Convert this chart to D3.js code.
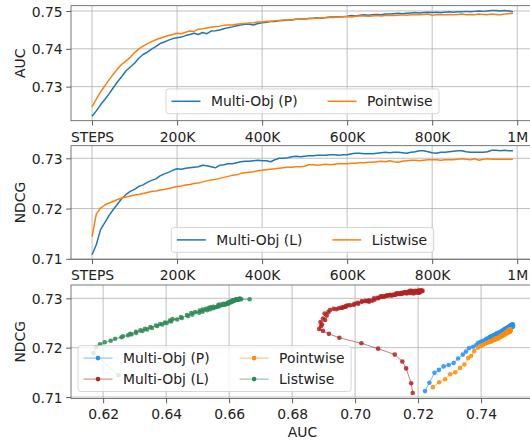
<!DOCTYPE html>
<html>
<head>
<meta charset="utf-8">
<script src="https://cdn.jsdelivr.net/npm/d3@7"></script>
<style>
  body { margin: 0; background: #fff; }
  svg { display: block; font-family: "DejaVu Sans", sans-serif; }
</style>
</head>
<body>
<svg id="fig" width="530" height="440"></svg>
<script>
// training steps (thousands)
var steps = [0,10,20,30,40,50,60,70,80,90,
  100,110,120,130,140,150,160,170,180,190,
  200,210,220,230,240,250,260,270,280,290,
  300,310,320,330,340,350,360,370,380,390,
  400,410,420,430,440,450,460,470,480,490,
  500,510,520,530,540,550,560,570,580,590,
  600,610,620,630,640,650,660,670,680,690,
  700,710,720,730,740,750,760,770,780,790,
  800,810,820,830,840,850,860,870,880,890,
  900,910,920,930,940,950,960,970,980,990];

// AUC per step
var aucMultiP = [0.7222,0.7236,0.7252,0.7266,0.7281,0.7297,0.7313,0.7327,0.7342,0.7352,
  0.7362,0.7375,0.7385,0.7391,0.7399,0.7406,0.7414,0.7418,0.7423,0.7427,
  0.7429,0.7431,0.7435,0.7438,0.7441,0.7438,0.7443,0.7440,0.7447,0.7448,
  0.7450,0.7453,0.7456,0.7458,0.7461,0.7463,0.7465,0.7465,0.7463,0.7467,
  0.7469,0.7470,0.7472,0.7472,0.7474,0.7475,0.7476,0.7476,0.7478,0.7479,
  0.7478,0.7480,0.7481,0.7482,0.7481,0.7483,0.7484,0.7484,0.7485,0.7485,
  0.7486,0.7488,0.7487,0.7489,0.7490,0.7489,0.7490,0.7491,0.7490,0.7492,
  0.7492,0.7493,0.7494,0.7493,0.7494,0.7495,0.7496,0.7495,0.7496,0.7497,
  0.7496,0.7497,0.7496,0.7497,0.7498,0.7497,0.7498,0.7498,0.7499,0.7498,
  0.7499,0.7500,0.7499,0.7500,0.7501,0.7501,0.7500,0.7501,0.7500,0.7498];
var aucPointwise = [0.7247,0.7267,0.7286,0.7302,0.7318,0.7333,0.7347,0.7359,0.7368,0.7378,
  0.7390,0.7400,0.7407,0.7413,0.7419,0.7424,0.7428,0.7432,0.7435,0.7438,
  0.7441,0.7440,0.7444,0.7447,0.7446,0.7452,0.7453,0.7455,0.7457,0.7459,
  0.7460,0.7462,0.7463,0.7463,0.7465,0.7466,0.7467,0.7468,0.7469,0.7471,
  0.7471,0.7473,0.7473,0.7474,0.7475,0.7476,0.7476,0.7477,0.7478,0.7478,
  0.7479,0.7480,0.7480,0.7481,0.7482,0.7482,0.7483,0.7483,0.7484,0.7485,
  0.7485,0.7484,0.7486,0.7487,0.7487,0.7486,0.7487,0.7488,0.7487,0.7488,
  0.7489,0.7488,0.7489,0.7490,0.7489,0.7490,0.7491,0.7490,0.7491,0.7492,
  0.7489,0.7490,0.7491,0.7490,0.7491,0.7490,0.7491,0.7492,0.7490,0.7491,
  0.7490,0.7492,0.7491,0.7490,0.7492,0.7491,0.7490,0.7492,0.7493,0.7494];

// NDCG per step
var ndcgMultiL = [0.7108,0.7128,0.7158,0.7172,0.7186,0.7198,0.7209,0.7220,0.7228,0.7234,
  0.7238,0.7244,0.7247,0.7252,0.7256,0.7259,0.7265,0.7269,0.7272,0.7276,
  0.7279,0.7278,0.7280,0.7281,0.7282,0.7283,0.7286,0.7285,0.7283,0.7281,
  0.7286,0.7287,0.7289,0.7289,0.7291,0.7293,0.7294,0.7294,0.7295,0.7296,
  0.7295,0.7295,0.7293,0.7297,0.7300,0.7300,0.7301,0.7303,0.7304,0.7303,
  0.7304,0.7305,0.7305,0.7306,0.7306,0.7306,0.7307,0.7307,0.7306,0.7307,
  0.7307,0.7309,0.7310,0.7310,0.7309,0.7309,0.7309,0.7310,0.7311,0.7312,
  0.7311,0.7312,0.7312,0.7311,0.7310,0.7312,0.7313,0.7315,0.7315,0.7313,
  0.7311,0.7310,0.7312,0.7312,0.7313,0.7314,0.7315,0.7315,0.7313,0.7312,
  0.7312,0.7312,0.7312,0.7313,0.7316,0.7316,0.7315,0.7316,0.7315,0.7315];
var ndcgListwise = [0.7144,0.7189,0.7201,0.7207,0.7211,0.7214,0.7218,0.7221,0.7223,0.7225,
  0.7227,0.7228,0.7230,0.7232,0.7234,0.7235,0.7237,0.7238,0.7240,0.7242,
  0.7244,0.7245,0.7247,0.7248,0.7250,0.7251,0.7253,0.7255,0.7257,0.7258,
  0.7260,0.7262,0.7264,0.7266,0.7267,0.7270,0.7271,0.7272,0.7273,0.7275,
  0.7276,0.7277,0.7278,0.7279,0.7280,0.7281,0.7282,0.7282,0.7283,0.7283,
  0.7284,0.7287,0.7287,0.7286,0.7287,0.7288,0.7287,0.7288,0.7289,0.7289,
  0.7289,0.7290,0.7290,0.7291,0.7291,0.7292,0.7292,0.7293,0.7294,0.7293,
  0.7295,0.7293,0.7292,0.7294,0.7295,0.7296,0.7296,0.7295,0.7296,0.7297,
  0.7297,0.7297,0.7296,0.7297,0.7297,0.7297,0.7298,0.7299,0.7298,0.7297,
  0.7299,0.7296,0.7298,0.7299,0.7298,0.7298,0.7298,0.7298,0.7298,0.7298];

// the other metric of each model, for the AUC vs NDCG panel
var ndcgMultiP = [0.7112,0.7129,0.7149,0.7155,0.7162,0.7165,0.7169,0.7178,0.7186,0.7192,
  0.7199,0.7202,0.7206,0.7210,0.7212,0.7214,0.7216,0.7218,0.7219,0.7221,
  0.7222,0.7223,0.7222,0.7224,0.7225,0.7224,0.7226,0.7225,0.7227,0.7228,
  0.7229,0.7228,0.7230,0.7231,0.7230,0.7232,0.7231,0.7233,0.7232,0.7234,
  0.7233,0.7235,0.7234,0.7236,0.7235,0.7237,0.7236,0.7238,0.7237,0.7236,
  0.7238,0.7239,0.7237,0.7239,0.7240,0.7238,0.7240,0.7241,0.7239,0.7241,
  0.7240,0.7242,0.7241,0.7239,0.7242,0.7243,0.7241,0.7240,0.7243,0.7242,
  0.7244,0.7241,0.7243,0.7245,0.7242,0.7244,0.7243,0.7245,0.7241,0.7244,
  0.7246,0.7243,0.7245,0.7242,0.7244,0.7246,0.7243,0.7245,0.7247,0.7244,
  0.7246,0.7243,0.7245,0.7247,0.7244,0.7246,0.7242,0.7245,0.7247,0.7244];
var ndcgPointwise = [0.7120,0.7130,0.7136,0.7146,0.7150,0.7159,0.7166,0.7179,0.7183,0.7193,
  0.7200,0.7204,0.7206,0.7208,0.7210,0.7211,0.7213,0.7212,0.7214,0.7215,
  0.7216,0.7217,0.7216,0.7218,0.7219,0.7218,0.7220,0.7219,0.7221,0.7222,
  0.7221,0.7223,0.7222,0.7224,0.7223,0.7225,0.7224,0.7226,0.7225,0.7227,
  0.7226,0.7228,0.7227,0.7226,0.7228,0.7229,0.7227,0.7229,0.7230,0.7228,
  0.7230,0.7231,0.7229,0.7231,0.7230,0.7232,0.7230,0.7232,0.7233,0.7231,
  0.7233,0.7232,0.7234,0.7232,0.7233,0.7235,0.7232,0.7234,0.7233,0.7235,
  0.7234,0.7232,0.7235,0.7233,0.7236,0.7234,0.7233,0.7235,0.7234,0.7236,
  0.7233,0.7235,0.7234,0.7236,0.7233,0.7235,0.7237,0.7234,0.7236,0.7233,
  0.7235,0.7237,0.7234,0.7236,0.7235,0.7233,0.7236,0.7234,0.7237,0.7235];
var aucMultiL = [0.7183,0.7178,0.7162,0.7150,0.7126,0.7073,0.7020,0.6950,0.6917,0.6898,
  0.6886,0.6892,0.6895,0.6890,0.6905,0.6898,0.6910,0.6903,0.6915,0.6920,
  0.6932,0.6940,0.6948,0.6955,0.6962,0.6970,0.6978,0.6972,0.6968,0.6960,
  0.6985,0.6996,0.6998,0.7010,0.7008,0.7022,0.7021,0.7034,0.7032,0.7045,
  0.7041,0.7054,0.7044,0.7062,0.7060,0.7074,0.7071,0.7084,0.7081,0.7092,
  0.7088,0.7100,0.7097,0.7108,0.7104,0.7115,0.7112,0.7121,0.7117,0.7128,
  0.7124,0.7134,0.7131,0.7141,0.7136,0.7146,0.7142,0.7152,0.7148,0.7158,
  0.7153,0.7163,0.7159,0.7167,0.7163,0.7173,0.7169,0.7179,0.7174,0.7183,
  0.7177,0.7186,0.7182,0.7190,0.7186,0.7195,0.7190,0.7198,0.7194,0.7202,
  0.7197,0.7204,0.7200,0.7207,0.7203,0.7209,0.7206,0.7212,0.7208,0.7214];
var aucListwise = [0.6249,0.6169,0.6178,0.6190,0.6205,0.6224,0.6238,0.6258,0.6263,0.6279,
  0.6290,0.6286,0.6305,0.6304,0.6325,0.6318,0.6340,0.6333,0.6355,0.6350,
  0.6372,0.6368,0.6388,0.6381,0.6402,0.6396,0.6416,0.6412,0.6435,0.6420,
  0.6450,0.6447,0.6470,0.6466,0.6483,0.6480,0.6505,0.6492,0.6516,0.6507,
  0.6530,0.6516,0.6540,0.6526,0.6550,0.6536,0.6558,0.6542,0.6563,0.6550,
  0.6568,0.6580,0.6566,0.6574,0.6585,0.6578,0.6570,0.6590,0.6596,0.6583,
  0.6592,0.6597,0.6594,0.6601,0.6598,0.6605,0.6602,0.6608,0.6612,0.6606,
  0.6615,0.6604,0.6598,0.6609,0.6614,0.6618,0.6615,0.6610,0.6619,0.6622,
  0.6624,0.6620,0.6616,0.6623,0.6627,0.6621,0.6628,0.6632,0.6626,0.6619,
  0.6633,0.6612,0.6629,0.6636,0.6630,0.6627,0.6634,0.6631,0.6638,0.6665];

var stepTicks = [0, 200, 400, 600, 800, 1000];
var stepTickLabels = ['STEPS', '200K', '400K', '600K', '800K', '1M'];
var aucTicks = [0.73, 0.74, 0.75];
var ndcgTicks = [0.71, 0.72, 0.73];
var aucScatterTicks = [0.62, 0.64, 0.66, 0.68, 0.70, 0.72, 0.74];

var FS = 13.9;
var LEFT = 71, RIGHT = 534;
var svg = d3.select('#fig');
var nClip = 0;

function axes(top, bottom, xDom, yDom, xTicks, xFmt, yTicks) {
  var x = d3.scaleLinear().domain(xDom).range([LEFT, RIGHT]);
  var y = d3.scaleLinear().domain(yDom).range([bottom, top]);
  var g = svg.append('g');

  g.selectAll('.gx').data(xTicks).enter().append('line')
    .attr('x1', d => x(d)).attr('x2', d => x(d))
    .attr('y1', top).attr('y2', bottom)
    .attr('stroke', '#b0b0b0').attr('stroke-width', 0.8);
  g.selectAll('.gy').data(yTicks).enter().append('line')
    .attr('x1', LEFT).attr('x2', RIGHT)
    .attr('y1', d => y(d)).attr('y2', d => y(d))
    .attr('stroke', '#b0b0b0').attr('stroke-width', 0.8);

  var xa = svg.append('g').attr('transform', 'translate(0,' + bottom + ')')
    .call(d3.axisBottom(x).tickValues(xTicks).tickFormat(xFmt)
      .tickSize(4.8).tickSizeOuter(0).tickPadding(6.3));
  var ya = svg.append('g').attr('transform', 'translate(' + LEFT + ',0)')
    .call(d3.axisLeft(y).tickValues(yTicks).tickFormat(d3.format('.2f'))
      .tickSize(4.8).tickSizeOuter(0).tickPadding(3.5));
  [xa, ya].forEach(a => {
    a.select('.domain').remove();
    a.attr('font-family', null).attr('font-size', FS);
    a.selectAll('.tick line').attr('stroke', '#333').attr('stroke-width', 0.8);
    a.selectAll('.tick text').attr('fill', '#222');
  });
  ya.selectAll('.tick text').attr('dy', '0.36em');

  var id = 'clip' + (nClip++);
  svg.append('clipPath').attr('id', id).append('rect')
    .attr('x', LEFT).attr('y', top).attr('width', RIGHT - LEFT).attr('height', bottom - top);
  var plot = svg.append('g').attr('clip-path', 'url(#' + id + ')');

  return {x: x, y: y, top: top, bottom: bottom, plot: plot};
}

function frame(ax) {
  svg.append('rect')
    .attr('x', LEFT).attr('y', ax.top)
    .attr('width', RIGHT - LEFT).attr('height', ax.bottom - ax.top)
    .attr('fill', 'none').attr('stroke', '#555').attr('stroke-width', 0.8);
}

function yLabel(ax, text) {
  svg.append('text')
    .attr('transform', 'translate(24.5,' + ((ax.top + ax.bottom) / 2) + ') rotate(-90)')
    .attr('text-anchor', 'middle').attr('font-size', FS).attr('fill', '#222')
    .text(text);
}

function textWidth(s) {
  var t = svg.append('text').attr('font-size', FS).text(s);
  var w = t.node().getComputedTextLength();
  t.remove();
  return w;
}

// columns of {label, color}; place = {left} or {center}; bottom edge of the box
function legend(columns, place, bottom, withMarker) {
  var pad = 5.5, padR = 6.5, hLen = 29, hGap = 10.5, colGap = 30, rowH = 21, textH = 13.8;
  var nRows = d3.max(columns, c => c.length);
  var widths = columns.map(c => d3.max(c, e => textWidth(e.label)));
  var boxW = pad + padR + d3.sum(widths) + columns.length * (hLen + hGap) + (columns.length - 1) * colGap;
  var boxH = 2 * pad + nRows * textH + (nRows - 1) * (rowH - textH);
  var left = place.left !== undefined ? place.left : place.center - boxW / 2;
  var top = bottom - boxH;
  var g = svg.append('g');
  g.append('rect').attr('x', left).attr('y', top).attr('width', boxW).attr('height', boxH)
    .attr('rx', 2.8).attr('fill', '#fff').attr('fill-opacity', 0.8)
    .attr('stroke', '#cccccc').attr('stroke-width', 0.8);
  var cx = left + pad;
  columns.forEach((col, ci) => {
    col.forEach((e, ri) => {
      var cy = top + pad + textH / 2 + ri * rowH;
      g.append('line').attr('x1', cx).attr('x2', cx + hLen).attr('y1', cy).attr('y2', cy)
        .attr('stroke', e.color).attr('stroke-width', withMarker ? 1 : 1.5)
        .attr('stroke-opacity', withMarker ? 0.6 : 1);
      if (withMarker) {
        g.append('circle').attr('cx', cx + hLen / 2).attr('cy', cy).attr('r', 2.3)
          .attr('fill', e.color);
      }
      g.append('text').attr('x', cx + hLen + hGap).attr('y', cy).attr('dy', '0.36em')
        .attr('font-size', FS).attr('fill', '#222').text(e.label);
    });
    cx += hLen + hGap + widths[ci] + colGap;
  });
}

var stepFmt = (d, i) => stepTickLabels[i];
var stepDomain = [-49.5, 1039.5];

// panel 1: AUC over steps
var ax1 = axes(5.7, 120.7, stepDomain, [0.7210, 0.7514], stepTicks, stepFmt, aucTicks);
var line1 = d3.line().x((d, i) => ax1.x(steps[i])).y(d => ax1.y(d));
[[aucMultiP, '#1f77b4'], [aucPointwise, '#ff7f0e']].forEach(s => {
  ax1.plot.append('path').datum(s[0]).attr('d', line1)
    .attr('fill', 'none').attr('stroke', s[1]).attr('stroke-width', 1.5)
    .attr('stroke-linejoin', 'round');
});
frame(ax1);
yLabel(ax1, 'AUC');
legend([[{label: 'Multi-Obj (P)', color: '#1f77b4'}], [{label: 'Pointwise', color: '#ff7f0e'}]],
  {center: (LEFT + RIGHT) / 2}, 120.7 - 7, false);

// panel 2: NDCG over steps
var ax2 = axes(145.7, 259.3, stepDomain, [0.7099, 0.7325], stepTicks, stepFmt, ndcgTicks);
var line2 = d3.line().x((d, i) => ax2.x(steps[i])).y(d => ax2.y(d));
[[ndcgMultiL, '#1f77b4'], [ndcgListwise, '#ff7f0e']].forEach(s => {
  ax2.plot.append('path').datum(s[0]).attr('d', line2)
    .attr('fill', 'none').attr('stroke', s[1]).attr('stroke-width', 1.5)
    .attr('stroke-linejoin', 'round');
});
frame(ax2);
yLabel(ax2, 'NDCG');
legend([[{label: 'Multi-Obj (L)', color: '#1f77b4'}], [{label: 'Listwise', color: '#ff7f0e'}]],
  {center: (LEFT + RIGHT) / 2}, 259.3 - 7, false);

// panel 3: NDCG against AUC
var ax3 = axes(285, 398.5, [0.6098, 0.7568], [0.7097, 0.7327], aucScatterTicks, d3.format('.2f'), ndcgTicks);
var pairs = [
  {label: 'Multi-Obj (P)', color: '#1e90ff', xs: aucMultiP, ys: ndcgMultiP},
  {label: 'Multi-Obj (L)', color: '#b22222', xs: aucMultiL, ys: ndcgMultiL},
  {label: 'Pointwise', color: '#ff8c00', xs: aucPointwise, ys: ndcgPointwise},
  {label: 'Listwise', color: '#2e8b57', xs: aucListwise, ys: ndcgListwise}
];
var line3 = d3.line().x(d => ax3.x(d[0])).y(d => ax3.y(d[1]));
pairs.forEach(s => {
  var pts = d3.zip(s.xs, s.ys);
  var g = ax3.plot.append('g');
  g.append('path').datum(pts).attr('d', line3)
    .attr('fill', 'none').attr('stroke', s.color).attr('stroke-width', 1)
    .attr('stroke-opacity', 0.6);
  g.selectAll('circle').data(pts).enter().append('circle')
    .attr('cx', d => ax3.x(d[0])).attr('cy', d => ax3.y(d[1])).attr('r', 2.3)
    .attr('fill', s.color).attr('fill-opacity', 0.85);
});
frame(ax3);
yLabel(ax3, 'NDCG');
svg.append('text').attr('x', (LEFT + RIGHT) / 2).attr('y', 436.7)
  .attr('text-anchor', 'middle').attr('font-size', FS).attr('fill', '#222').text('AUC');
legend([[pairs[0], pairs[1]], [pairs[2], pairs[3]]], {left: LEFT + 7}, 398.5 - 7, true);
</script>
</body>
</html>
